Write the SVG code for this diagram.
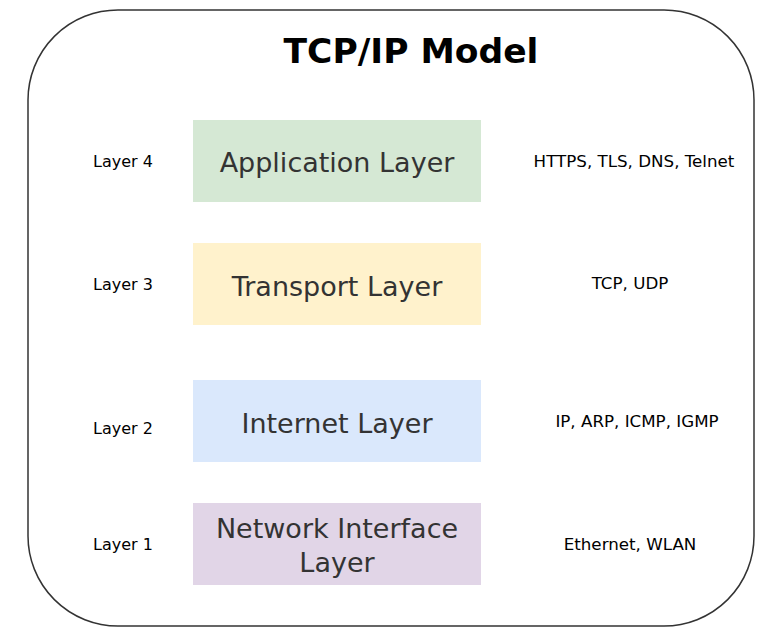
<svg xmlns="http://www.w3.org/2000/svg" width="768" height="640" viewBox="0 0 768 640">
<style>
.layer{font-family:"DejaVu Sans","Verdana",sans-serif;font-size:27px;fill:#333333;text-anchor:middle}
.lbl{font-family:"DejaVu Sans","Verdana",sans-serif;font-size:16px;fill:#000000;text-anchor:middle}
.proto{font-family:"DejaVu Sans","Verdana",sans-serif;font-size:16.7px;fill:#000000;text-anchor:middle}
.title{font-family:"DejaVu Sans","Verdana",sans-serif;font-size:34.5px;font-weight:bold;fill:#000000;text-anchor:middle}
</style>
<rect width="768" height="640" fill="#ffffff"/>
<g id="frame">
<rect x="28" y="10" width="726" height="616" rx="90" ry="90" fill="#ffffff" stroke="#333333" stroke-width="1.5"/>
<text class="title" x="411" y="63">TCP/IP Model</text>
</g>
<g id="connectors"></g>
<g id="application">
<rect x="193" y="120" width="288" height="82" fill="#d5e8d4"/>
<text class="layer" x="337" y="172">Application Layer</text>
<text class="lbl" x="123" y="167">Layer 4</text>
<text class="proto" x="634" y="167">HTTPS, TLS, DNS, Telnet</text>
</g>
<g id="transport">
<rect x="193" y="243" width="288" height="82" fill="#fff2cc"/>
<text class="layer" x="337" y="296">Transport Layer</text>
<text class="lbl" x="123" y="290">Layer 3</text>
<text class="proto" x="630" y="289">TCP, UDP</text>
</g>
<g id="internet">
<rect x="193" y="380" width="288" height="82" fill="#dae8fc"/>
<text class="layer" x="337" y="433">Internet Layer</text>
<text class="lbl" x="123" y="434">Layer 2</text>
<text class="proto" x="637" y="427">IP, ARP, ICMP, IGMP</text>
</g>
<g id="network">
<rect x="193" y="503" width="288" height="82" fill="#e1d5e7"/>
<text class="layer" x="337" y="538">Network Interface</text>
<text class="layer" x="337" y="572">Layer</text>
<text class="lbl" x="123" y="550">Layer 1</text>
<text class="proto" x="630" y="550">Ethernet, WLAN</text>
</g>
</svg>
